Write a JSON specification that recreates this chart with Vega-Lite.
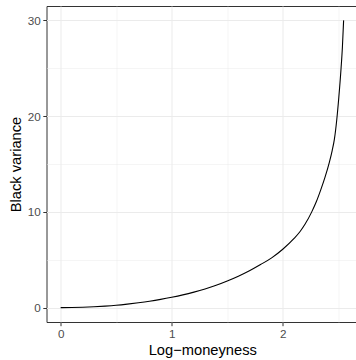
{
  "$schema": "https://vega.github.io/schema/vega-lite/v6.json",
  "autosize": {"type": "none"},
  "padding": {"left": 46.5, "top": 6, "right": 0, "bottom": 38},
  "width": 311.5,
  "height": 316,
  "config": {
    "view": {"stroke": "#333333", "strokeWidth": 1},
    "font": "Liberation Sans",
    "axis": {
      "gridColor": "#EBEBEB",
      "domain": false,
      "tickColor": "#333333",
      "tickSize": 3.7,
      "tickWidth": 1,
      "labelColor": "#4D4D4D",
      "labelFont": "Liberation Sans",
      "labelFontSize": 11.7,
      "labelPadding": 2.5,
      "titleFont": "Liberation Sans",
      "titleFontSize": 14.7,
      "titleFontWeight": "normal",
      "titleColor": "#000000"
    }
  },
  "data": {
    "values": [
      {"k": 0.0, "v": 0.0},
      {"k": 0.1, "v": 0.01},
      {"k": 0.2, "v": 0.04},
      {"k": 0.3, "v": 0.09},
      {"k": 0.4, "v": 0.16},
      {"k": 0.5, "v": 0.25},
      {"k": 0.6, "v": 0.37},
      {"k": 0.7, "v": 0.51},
      {"k": 0.8, "v": 0.67},
      {"k": 0.9, "v": 0.86},
      {"k": 1.0, "v": 1.08},
      {"k": 1.1, "v": 1.33},
      {"k": 1.2, "v": 1.62},
      {"k": 1.3, "v": 1.95},
      {"k": 1.4, "v": 2.33},
      {"k": 1.5, "v": 2.78},
      {"k": 1.6, "v": 3.28},
      {"k": 1.7, "v": 3.85},
      {"k": 1.8, "v": 4.5},
      {"k": 1.9, "v": 5.2},
      {"k": 2.0, "v": 6.1},
      {"k": 2.1, "v": 7.2},
      {"k": 2.156, "v": 7.95},
      {"k": 2.2, "v": 8.7},
      {"k": 2.261, "v": 10.0},
      {"k": 2.3, "v": 11.0},
      {"k": 2.342, "v": 12.3},
      {"k": 2.38, "v": 13.6},
      {"k": 2.42, "v": 15.2},
      {"k": 2.445, "v": 16.4},
      {"k": 2.465, "v": 17.6},
      {"k": 2.486, "v": 19.6},
      {"k": 2.505, "v": 22.0},
      {"k": 2.525, "v": 25.0},
      {"k": 2.537, "v": 27.2},
      {"k": 2.548, "v": 30.0}
    ]
  },
  "layer": [
    {
      "mark": {"type": "line", "opacity": 0},
      "encoding": {
        "x": {"field": "k", "type": "quantitative",
              "scale": {"domain": [-0.1275, 2.6775], "nice": false, "zero": false},
              "axis": {"orient": "bottom", "values": [0.5, 1.5, 2.5], "grid": true, "gridWidth": 0.5, "ticks": false, "labels": false, "title": null}},
        "y": {"field": "v", "type": "quantitative",
              "scale": {"domain": [-1.5, 31.5], "nice": false, "zero": false},
              "axis": {"orient": "left", "values": [5, 15, 25], "grid": true, "gridWidth": 0.5, "ticks": false, "labels": false, "title": null}}
      }
    },
    {
      "mark": {"type": "line", "color": "#000000", "strokeWidth": 1.1, "interpolate": "monotone"},
      "encoding": {
        "x": {"field": "k", "type": "quantitative",
              "scale": {"domain": [-0.1275, 2.6775], "nice": false, "zero": false},
              "axis": {"orient": "bottom", "values": [0, 1, 2], "grid": true, "gridWidth": 1, "title": "Log−moneyness", "titlePadding": 3}},
        "y": {"field": "v", "type": "quantitative",
              "scale": {"domain": [-1.5, 31.5], "nice": false, "zero": false},
              "axis": {"orient": "left", "values": [0, 10, 20, 30], "grid": true, "gridWidth": 1, "title": "Black variance", "titlePadding": 4}}
      }
    }
  ],
  "resolve": {"axis": {"x": "independent", "y": "independent"}}
}
